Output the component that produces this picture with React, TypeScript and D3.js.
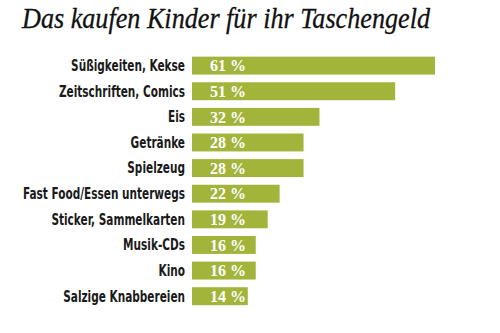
import React from "react";
import * as d3 from "d3";

const categories = [
  "Süßigkeiten, Kekse",
  "Zeitschriften, Comics",
  "Eis",
  "Getränke",
  "Spielzeug",
  "Fast Food/Essen unterwegs",
  "Sticker, Sammelkarten",
  "Musik-CDs",
  "Kino",
  "Salzige Knabbereien",
];
const values = [61, 51, 32, 28, 28, 22, 19, 16, 16, 14];
const title = "Das kaufen Kinder für ihr Taschengeld";

export default function App() {
  const W = 500, H = 333;
  const x = d3.scaleLinear().domain([0, 61]).range([192, 435]);
  const y = d3.scaleBand().domain(categories).range([52.8, 309]).paddingInner(0.3).paddingOuter(0.15);
  return (
    <svg width={W} height={H} style={{ position: "absolute", left: 0, top: 0, background: "#fff" }}>
      <text x={22} y={28} fontFamily="'Liberation Serif', serif" fontStyle="italic" fontSize={30}
        fill="#111" stroke="#111" strokeWidth={0.3} textLength={408} lengthAdjust="spacingAndGlyphs">{title}</text>
      {categories.map((c, i) => {
        const yy = y(c)!;
        const bw = y.bandwidth();
        return (
          <g key={c}>
            <rect x={x(0)} y={yy} width={x(values[i]) - x(0)} height={bw} fill="#a3b43b" />
            <text transform={`translate(185,${yy + bw / 2}) scale(0.78,1)`} dy="0.36em" textAnchor="end"
              fontFamily="'DejaVu Sans Condensed', sans-serif" fontWeight="bold"
              fontSize={15} fill="#1a1a1a">{c}</text>
            <text x={x(0) + 18} y={yy + bw / 2} dy="0.36em"
              fontFamily="'Liberation Serif', serif" fontWeight="bold" fontSize={16} fill="#fff">
              {values[i]} %
            </text>
          </g>
        );
      })}
    </svg>
  );
}
